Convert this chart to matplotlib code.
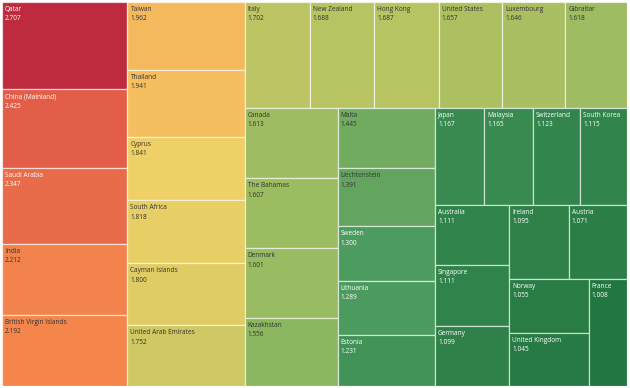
import matplotlib
matplotlib.use("Agg")
import matplotlib.pyplot as plt
from matplotlib.colors import LinearSegmentedColormap, Normalize, to_rgb
from matplotlib.patches import Rectangle

countries = [
    "Qatar", "China (Mainland)", "Saudi Arabia", "India", "British Virgin Islands",
    "Taiwan", "Thailand", "Cyprus", "South Africa", "Cayman Islands",
    "United Arab Emirates", "Italy", "New Zealand", "Hong Kong", "United States",
    "Luxembourg", "Gibraltar", "Canada", "The Bahamas", "Denmark", "Kazakhstan",
    "Malta", "Liechtenstein", "Sweden", "Lithuania", "Estonia", "Japan",
    "Malaysia", "Switzerland", "South Korea", "Australia", "Singapore",
    "Germany", "Ireland", "Austria", "Norway", "United Kingdom", "France",
]
values = [
    2.707, 2.425, 2.347, 2.212, 2.192,
    1.962, 1.941, 1.841, 1.818, 1.800,
    1.752, 1.702, 1.688, 1.687, 1.657,
    1.646, 1.618, 1.613, 1.607, 1.601, 1.556,
    1.445, 1.391, 1.300, 1.289, 1.231, 1.167,
    1.165, 1.123, 1.115, 1.111, 1.111,
    1.099, 1.095, 1.071, 1.055, 1.045, 1.008,
]
# how many tiles go in each strip of the treemap, in order
strips = [5, 6, 6, 4, 5, 4, 3, 2, 2, 1]

# Tableau "Red-Green-Gold Diverging", green = low
palette = ['#22763f', '#4b9b5f', '#90b960', '#f4d166', '#f88f4d', '#e25f48', '#be2a3e']


def treemap(vals, groups, x, y, w, h):
    total = sum(vals)
    areas = [v * w * h / total for v in vals]
    rects = []
    i = 0
    for n in groups:
        row = areas[i:i + n]
        s = sum(row)
        if w >= h:
            cw = s / h
            cy = y
            for a in row:
                rects.append((x, cy, cw, a / cw))
                cy += a / cw
            x += cw
            w -= cw
        else:
            rh = s / w
            cx = x
            for a in row:
                rects.append((cx, y, a / rh, rh))
                cx += a / rh
            y += rh
            h -= rh
        i += n
    return rects


W, H = 625, 384
rects = treemap(values, strips, 0, 0, W, H)

cmap = LinearSegmentedColormap.from_list("rgg", palette)
norm = Normalize(min(values), max(values))

fig = plt.figure(figsize=(6.3, 3.88), dpi=100)
ax = fig.add_axes([2 / 630, 2 / 388, W / 630, H / 388])
ax.set_xlim(0, W)
ax.set_ylim(H, 0)
ax.axis("off")

for name, val, (rx, ry, rw, rh) in zip(countries, values, rects):
    col = cmap(norm(val))
    ax.add_patch(Rectangle((rx, ry), rw, rh, facecolor=col,
                           edgecolor=(1, 1, 1, 0.6), linewidth=0.9))
    r, g, b = to_rgb(col)
    lum = 0.2126 * r ** 2.2 + 0.7152 * g ** 2.2 + 0.0722 * b ** 2.2
    tc = "white" if lum < 0.3 else "#333333"
    ax.text(rx + 3, ry + 4, f"{name}\n{val:.3f}", ha="left", va="top",
            fontsize=4.7, family="Open Sans", color=tc, linespacing=1.45)

fig.savefig("out.png", dpi=100, facecolor="white")
